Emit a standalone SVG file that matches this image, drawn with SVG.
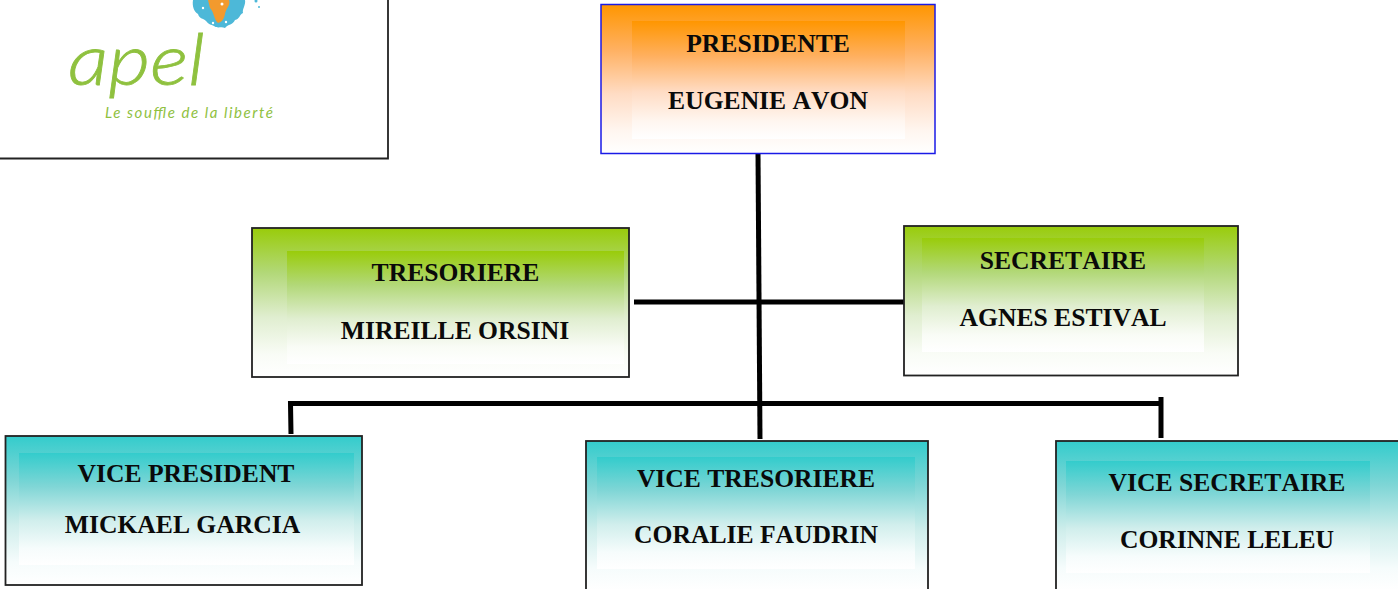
<svg xmlns="http://www.w3.org/2000/svg" width="1398" height="589" viewBox="0 0 1398 589">
<style>
.box{stroke:#222;stroke-width:1.8}
.t{font-family:"Liberation Serif","Times New Roman",serif;font-weight:bold;font-size:25.6px;font-kerning:none;fill:#0a0a0a;text-anchor:middle}
.c{fill:none;stroke:#000;stroke-width:5}
.lg{font-family:Lato,"Open Sans",sans-serif;font-style:italic;fill:#8fc13f}
</style>
<defs>
<linearGradient id="o" x1="0" y1="0" x2="0" y2="1"><stop offset="0" stop-color="#ff9600"/><stop offset=".3" stop-color="#ffb060"/><stop offset=".6" stop-color="#ffdcc4"/><stop offset=".85" stop-color="#fff6f0"/><stop offset="1" stop-color="#fff"/></linearGradient>
<linearGradient id="g" x1="0" y1="0" x2="0" y2="1"><stop offset="0" stop-color="#99cc0a"/><stop offset=".3" stop-color="#b2d878"/><stop offset=".6" stop-color="#e0eed0"/><stop offset=".85" stop-color="#f9fcf6"/><stop offset="1" stop-color="#fff"/></linearGradient>
<linearGradient id="b" x1="0" y1="0" x2="0" y2="1"><stop offset="0" stop-color="#33cccc"/><stop offset=".3" stop-color="#80d6d6"/><stop offset=".6" stop-color="#d0eeec"/><stop offset=".85" stop-color="#f6fcfc"/><stop offset="1" stop-color="#fff"/></linearGradient>
</defs>
<rect width="1398" height="589" fill="#fff"/>
<g id="logo">
<path d="M-2 158.500H388V-2" fill="none" stroke="#222" stroke-width="1.800"/>
<path d="M193 0H245C246 5 242 9 243 13C239 15 240 19 235 20C233 25 228 24 225 28C221 26 218 29 214 26C211 24 209 25 207 22C204 18 199 19 198 14C194 12 192 6 193 0Z" fill="#4db8d8"/>
<path d="M208 0H229C231 5 226 8 225 14C224 19 222 22 218 23C214 20 214 12 210 8Z" fill="#f29a2e"/>
<circle cx="222" cy="4" r="1.500" fill="#fff"/><circle cx="213" cy="23" r="1.200" fill="#fff"/><circle cx="226" cy="22" r="1.200" fill="#fff"/><circle cx="203" cy="8" r="1.200" fill="#fff"/>
<circle cx="256" cy="1" r="1.500" fill="#4db8d8"/><circle cx="259" cy="7" r="1" fill="#4db8d8"/>
<text class="lg" x="68" y="85" font-size="72" font-weight="300" stroke="#8fc13f" stroke-width=".8" textLength="137" lengthAdjust="spacingAndGlyphs">apel</text>
<text class="lg" x="105" y="118" font-size="15" textLength="168" lengthAdjust="spacing">Le souffle de la liberté</text>
</g>
<g id="connectors">
<path class="c" d="M758 153L760 439"/>
<path class="c" d="M634 302H905"/>
<path class="c" d="M291 434L290.500 403.500H1161"/>
<path class="c" d="M1161 397V438"/>
</g>
<g id="presidente">
<rect x="601" y="4.500" width="334" height="149" fill="url(#o)" stroke="#1a1ae6" stroke-width="1.500"/>
<rect x="632" y="21" width="273" height="118" fill="url(#o)"/>
<text class="t" x="768" y="52">PRESIDENTE</text>
<text class="t" x="768" y="109">EUGENIE AVON</text>
</g>
<g id="tresoriere">
<rect class="box" x="252" y="228" width="377" height="149" fill="url(#g)"/>
<rect x="287" y="251" width="337" height="113" fill="url(#g)"/>
<text class="t" x="455.500" y="281">TRESORIERE</text>
<text class="t" x="455" y="339">MIREILLE ORSINI</text>
</g>
<g id="secretaire">
<rect class="box" x="904" y="226" width="334" height="149.500" fill="url(#g)"/>
<rect x="922" y="238" width="282" height="114" fill="url(#g)"/>
<text class="t" x="1063" y="269">SECRETAIRE</text>
<text class="t" x="1063" y="326">AGNES ESTIVAL</text>
</g>
<g id="vice-president">
<rect class="box" x="5.500" y="436" width="356.500" height="149" fill="url(#b)"/>
<rect x="19" y="453" width="335" height="112" fill="url(#b)"/>
<text class="t" x="186" y="482">VICE PRESIDENT</text>
<text class="t" x="182.500" y="533">MICKAEL GARCIA</text>
</g>
<g id="vice-tresoriere">
<rect class="box" x="586" y="441" width="342" height="150" fill="url(#b)"/>
<rect x="597" y="457" width="318" height="112" fill="url(#b)"/>
<text class="t" x="756" y="487">VICE TRESORIERE</text>
<text class="t" x="756" y="543">CORALIE FAUDRIN</text>
</g>
<g id="vice-secretaire">
<rect class="box" x="1056" y="441" width="344" height="150" fill="url(#b)"/>
<rect x="1066" y="461" width="304" height="112" fill="url(#b)"/>
<text class="t" x="1227" y="491">VICE SECRETAIRE</text>
<text class="t" x="1227" y="548">CORINNE LELEU</text>
</g>
</svg>
